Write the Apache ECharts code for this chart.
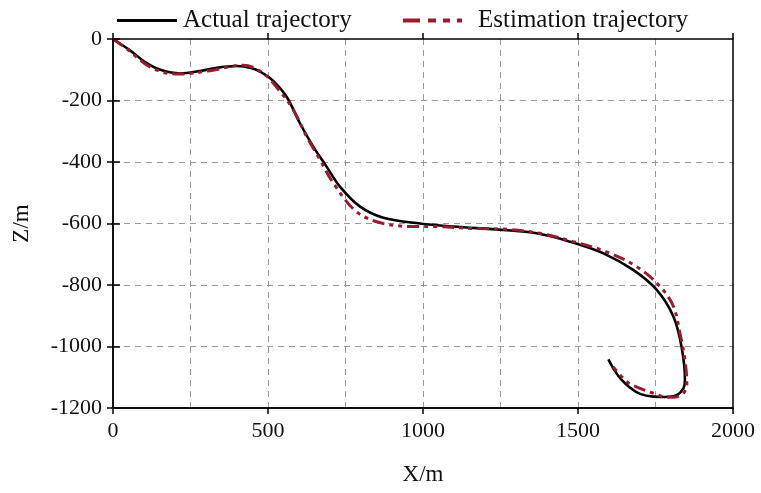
<!DOCTYPE html>
<html>
<head>
<meta charset="utf-8">
<script src="https://cdn.jsdelivr.net/npm/echarts@6/dist/echarts.min.js"></script>
<style>html,body{margin:0;padding:0;background:#fff;}#c{width:761px;height:493px;}</style>
</head>
<body>
<div id="c"></div>
<script>
var actualX = [0, 55, 105, 155, 216, 281, 340, 399, 445, 480, 517, 560, 603, 646, 689, 732, 797, 872, 990, 1098, 1259, 1367, 1474, 1582, 1678, 1754, 1808, 1834, 1845, 1840, 1818, 1780, 1743, 1700, 1668, 1640, 1620, 1598];
var actualZ = [0, -37, -76, -101, -112, -104, -93, -88, -94, -109, -136, -188, -274, -350, -415, -480, -545, -581, -600, -610, -621, -632, -659, -697, -751, -816, -903, -1001, -1109, -1136, -1158, -1164, -1163, -1154, -1134, -1108, -1081, -1042];
var estX = [0, 55, 105, 160, 216, 313, 420, 485, 544, 582, 625, 668, 711, 786, 872, 990, 1033, 1152, 1270, 1377, 1485, 1592, 1689, 1765, 1808, 1829, 1845, 1851, 1840, 1810, 1786, 1743, 1700, 1657, 1614];
var estZ = [0, -40, -82, -108, -114, -103, -85, -112, -177, -231, -318, -393, -469, -562, -600, -610, -610, -616, -619, -632, -659, -692, -740, -805, -870, -957, -1044, -1120, -1152, -1165, -1165, -1152, -1136, -1114, -1066];
var seriesNames = ['Actual trajectory', 'Estimation trajectory'];
var xTicks = [0, 500, 1000, 1500, 2000];
var zTicks = [0, -200, -400, -600, -800, -1000, -1200];

function pairs(xs, zs) { return xs.map(function (x, i) { return [x, zs[i]]; }); }

var font = 'Liberation Serif, Times New Roman, serif';
var red = '#9c1a2d';
var chart = echarts.init(document.getElementById('c'), null, {renderer: 'canvas'});
var xMin = xTicks[0], xMax = xTicks[xTicks.length - 1];
var zMin = zTicks[zTicks.length - 1], zMax = zTicks[0];
var plain = function (v) { return String(v); };
chart.setOption({
  backgroundColor: '#fff',
  animation: false,
  textStyle: {fontFamily: font},
  grid: {left: 113, right: 28, top: 39, bottom: 85, show: true, borderColor: '#000', borderWidth: 1.5, containLabel: false, z: 5},
  legend: [
    {data: [{name: seriesNames[0], icon: 'path://M0,0h60v3h-60z'}], left: 112, top: 3, itemWidth: 60, itemHeight: 3, itemGap: 0,
     textStyle: {fontFamily: font, fontSize: 25, color: '#111', padding: [0, 0, 0, 1]}},
    {data: [{name: seriesNames[1], icon: 'path://M0,0h17v4h-17z M25,0h8v4h-8z M40,0h7v4h-7z M54,0h5v4h-5z'}], left: 398, top: 3, itemWidth: 59, itemHeight: 4, itemGap: 0,
     itemStyle: {color: red},
     textStyle: {fontFamily: font, fontSize: 25, color: '#111', padding: [0, 0, 0, 11]}}
  ],
  xAxis: [
    {type: 'value', min: xMin, max: xMax, interval: 500, name: 'X/m', nameLocation: 'middle', nameGap: 55,
     nameTextStyle: {fontFamily: font, fontSize: 23, color: '#111'},
     axisLine: {show: true, onZero: false, lineStyle: {color: '#000', width: 1.5}},
     axisTick: {show: true, length: 6, lineStyle: {color: '#000', width: 1.5}},
     axisLabel: {fontFamily: font, fontSize: 22, color: '#111', margin: 12, formatter: plain},
     splitLine: {show: false}},
    {type: 'value', min: xMin, max: xMax, interval: 500,
     axisLine: {show: false}, axisTick: {show: true, inside: true, length: 6, lineStyle: {color: '#000', width: 1.5}},
     axisLabel: {show: false}, splitLine: {show: false}, position: 'bottom'},
    {type: 'value', min: xMin, max: xMax, interval: 250,
     axisLine: {show: false}, axisTick: {show: false}, axisLabel: {show: false}, position: 'bottom',
     splitLine: {show: true, showMinLine: false, showMaxLine: false, lineStyle: {color: '#9a9a9a', width: 1, type: [6, 5]}}}
  ],
  yAxis: [
    {type: 'value', min: zMin, max: zMax, interval: 200, name: 'Z/m', nameLocation: 'middle', nameGap: 80, nameRotate: 90,
     nameTextStyle: {fontFamily: font, fontSize: 23, color: '#111'},
     axisLine: {show: true, onZero: false, lineStyle: {color: '#000', width: 1.5}},
     axisTick: {show: true, length: 6, lineStyle: {color: '#000', width: 1.5}},
     axisLabel: {fontFamily: font, fontSize: 22, color: '#111', margin: 11, formatter: plain},
     splitLine: {show: true, showMinLine: false, showMaxLine: false, lineStyle: {color: '#9a9a9a', width: 1, type: [6, 5]}}},
    {type: 'value', min: zMin, max: zMax, interval: 200, position: 'left',
     axisLine: {show: false}, axisTick: {show: true, inside: true, length: 7, lineStyle: {color: '#000', width: 1.5}},
     axisLabel: {show: false}, splitLine: {show: false}}
  ],
  series: [
    {name: seriesNames[0], type: 'line', xAxisIndex: 0, yAxisIndex: 0, data: pairs(actualX, actualZ),
     smooth: 0.35, symbol: 'none', z: 3,
     itemStyle: {color: '#000'}, lineStyle: {color: '#000', width: 2.6}},
    {name: seriesNames[1], type: 'line', xAxisIndex: 0, yAxisIndex: 0, data: pairs(estX, estZ),
     smooth: 0.35, symbol: 'none', z: 4,
     itemStyle: {color: red}, lineStyle: {color: red, width: 3, type: [12, 5, 4, 5, 4, 5]}}
  ]
});
</script>
</body>
</html>
